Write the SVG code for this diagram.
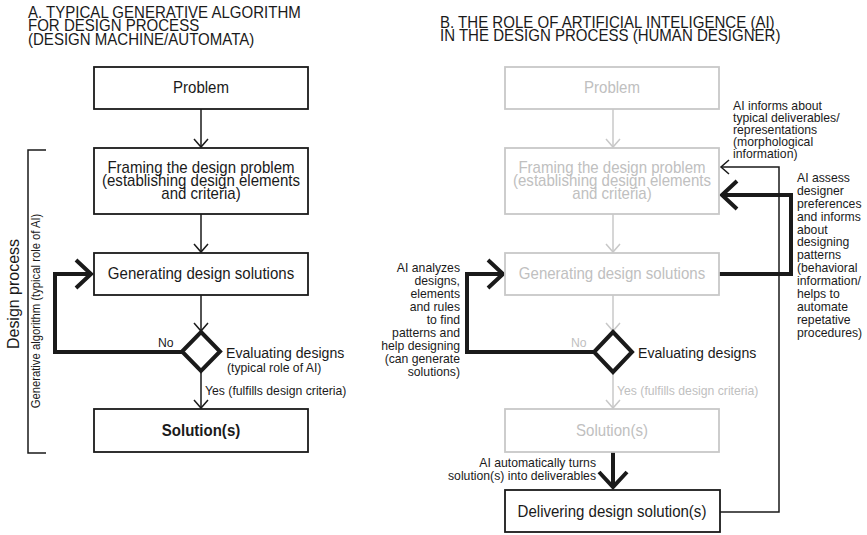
<svg xmlns="http://www.w3.org/2000/svg" width="867" height="535" viewBox="0 0 867 535">
<style>
.t{font-family:"Liberation Sans",Arial,sans-serif;fill:#1a1a1a}
.s16{font-size:16px}.s15{font-size:15px}.s13{font-size:13px}.s12{font-size:12px}.s17{font-size:17px}
.box{fill:#fff;stroke:#1a1a1a;stroke-width:1.8}
.gbox{fill:#fff;stroke:#c8c8c8;stroke-width:1.8}
.g{fill:#c0c0c0}
.thin{fill:none;stroke:#1a1a1a;stroke-width:1.5}
.gthin{fill:none;stroke:#c8c8c8;stroke-width:1.5}
.thick{fill:none;stroke:#1a1a1a;stroke-width:4}
.dia{fill:#fff;stroke:#1a1a1a;stroke-width:4}
.m{text-anchor:middle}.e{text-anchor:end}.b{font-weight:bold}
</style>
<defs>
<marker id="ah" viewBox="-20 -20 40 40" markerWidth="40" markerHeight="40" refX="0" refY="0" orient="auto" markerUnits="userSpaceOnUse">
<path d="M-8,-7 L0,0 L-8,7" fill="none" stroke="#1a1a1a" stroke-width="1.5"/>
</marker>
<marker id="gah" viewBox="-20 -20 40 40" markerWidth="40" markerHeight="40" refX="0" refY="0" orient="auto" markerUnits="userSpaceOnUse">
<path d="M-8,-7 L0,0 L-8,7" fill="none" stroke="#c8c8c8" stroke-width="1.5"/>
</marker>
<marker id="tah" viewBox="-20 -20 40 40" markerWidth="40" markerHeight="40" refX="0" refY="0" orient="auto" markerUnits="userSpaceOnUse">
<path d="M-15,-14 L0,0 L-15,14" fill="none" stroke="#1a1a1a" stroke-width="4"/>
</marker>
</defs>

<g id="titleA">
<text class="t s16" transform="translate(28,18) scale(0.94,1)"><tspan x="0">A. TYPICAL GENERATIVE ALGORITHM</tspan><tspan x="0" dy="13.3">FOR DESIGN PROCESS</tspan><tspan x="0" dy="13.3">(DESIGN MACHINE/AUTOMATA)</tspan></text>
</g>
<g id="titleB">
<text class="t s16" transform="translate(440,28) scale(0.94,1)"><tspan x="0">B. THE ROLE OF ARTIFICIAL INTELIGENCE (AI)</tspan><tspan x="0" dy="13">IN THE DESIGN PROCESS (HUMAN DESIGNER)</tspan></text>
</g>

<g id="connectors">
<line class="thin" x1="201" y1="109" x2="201" y2="147" marker-end="url(#ah)"/>
<line class="thin" x1="201" y1="214" x2="201" y2="252" marker-end="url(#ah)"/>
<line class="thin" x1="201" y1="295" x2="201" y2="331" marker-end="url(#ah)"/>
<line class="thin" x1="201" y1="371" x2="201" y2="408" marker-end="url(#ah)"/>
<path class="thick" d="M182,352 H55 V274 H91" marker-end="url(#tah)"/>
<path class="thin" d="M46,150 H28 V453 H46"/>
<line class="gthin" x1="613" y1="109" x2="613" y2="147" marker-end="url(#gah)"/>
<line class="gthin" x1="613" y1="214" x2="613" y2="252" marker-end="url(#gah)"/>
<line class="gthin" x1="613" y1="295" x2="613" y2="331" marker-end="url(#gah)"/>
<line class="gthin" x1="613" y1="372" x2="613" y2="408" marker-end="url(#gah)"/>
<path class="thick" d="M593,352 H467 V274 H503" marker-end="url(#tah)"/>
<path class="thick" d="M719,274 H791 V195 H722" marker-end="url(#tah)"/>
<path class="thin" d="M719,512 H779 V167 H721" marker-end="url(#ah)"/>
<line class="thick" x1="613" y1="452" x2="613" y2="487" marker-end="url(#tah)"/>
</g>

<g id="a-problem">
<rect class="box" x="94" y="67" width="214" height="42"/>
<text class="t s16 m" transform="translate(201,93) scale(0.94,1)">Problem</text>
</g>
<g id="a-framing">
<rect class="box" x="94" y="148" width="214" height="66"/>
<text class="t s16 m" transform="translate(201,173) scale(0.94,1)"><tspan x="0">Framing the design problem</tspan><tspan x="0" dy="13">(establishing design elements</tspan><tspan x="0" dy="13">and criteria)</tspan></text>
</g>
<g id="a-generating">
<rect class="box" x="94" y="253" width="214" height="42"/>
<text class="t s16 m" transform="translate(201,279) scale(0.94,1)">Generating design solutions</text>
</g>
<g id="a-evaluating">
<polygon class="dia" points="201,332 220,351.5 201,371 182,351.5"/>
<text class="t s15" transform="translate(226,358) scale(0.94,1)">Evaluating designs</text>
<text class="t s13" transform="translate(227,372) scale(0.94,1)">(typical role of AI)</text>
<text class="t s13" transform="translate(158,347) scale(0.94,1)">No</text>
<text class="t s13" transform="translate(205,395) scale(0.94,1)">Yes (fulfills design criteria)</text>
</g>
<g id="a-solution">
<rect class="box" x="94" y="409" width="214" height="43"/>
<text class="t s16 m b" transform="translate(201,436) scale(0.94,1)">Solution(s)</text>
</g>
<g id="a-labels">
<text class="t s17 m" transform="translate(19,294) rotate(-90) scale(0.94,1)">Design process</text>
<text class="t s12 m" transform="translate(40,311) rotate(-90) scale(0.94,1)">Generative algorithm (typical role of AI)</text>
</g>

<g id="b-problem">
<rect class="gbox" x="505" y="67" width="214" height="42"/>
<text class="t s16 m g" transform="translate(612,93) scale(0.94,1)">Problem</text>
</g>
<g id="b-framing">
<rect class="gbox" x="505" y="148" width="214" height="66"/>
<text class="t s16 m g" transform="translate(612,173) scale(0.94,1)"><tspan x="0">Framing the design problem</tspan><tspan x="0" dy="13">(establishing design elements</tspan><tspan x="0" dy="13">and criteria)</tspan></text>
</g>
<g id="b-generating">
<rect class="gbox" x="505" y="253" width="214" height="42"/>
<text class="t s16 m g" transform="translate(612,279) scale(0.94,1)">Generating design solutions</text>
</g>
<g id="b-evaluating">
<polygon class="dia" points="613,332 632,352 613,372 594,352"/>
<text class="t s15" transform="translate(638,358) scale(0.94,1)">Evaluating designs</text>
<text class="t s13 g" transform="translate(571,347) scale(0.94,1)">No</text>
<text class="t s13 g" transform="translate(617,395) scale(0.94,1)">Yes (fulfills design criteria)</text>
</g>
<g id="b-solution">
<rect class="gbox" x="505" y="409" width="214" height="43"/>
<text class="t s16 m g" transform="translate(612,436) scale(0.94,1)">Solution(s)</text>
</g>
<g id="b-delivering">
<rect class="box" x="505" y="490" width="215" height="42"/>
<text class="t s16 m" transform="translate(612,517) scale(0.94,1)">Delivering design solution(s)</text>
</g>
<g id="b-notes">
<text class="t s13 e" transform="translate(596,467) scale(0.94,1)"><tspan x="0">AI automatically turns</tspan><tspan x="0" dy="13.5">solution(s) into deliverables</tspan></text>
<text class="t s13 e" transform="translate(460,271.5) scale(0.94,1)"><tspan x="0">AI analyzes</tspan><tspan x="0" dy="13.06">designs,</tspan><tspan x="0" dy="13.06">elements</tspan><tspan x="0" dy="13.06">and rules</tspan><tspan x="0" dy="13.06">to find</tspan><tspan x="0" dy="13.06">patterns and</tspan><tspan x="0" dy="13.06">help designing</tspan><tspan x="0" dy="13.06">(can generate</tspan><tspan x="0" dy="13.06">solutions)</tspan></text>
<text class="t s13" transform="translate(733,110) scale(0.94,1)"><tspan x="0">AI informs about</tspan><tspan x="0" dy="11.9">typical deliverables/</tspan><tspan x="0" dy="11.9">representations</tspan><tspan x="0" dy="11.9">(morphological</tspan><tspan x="0" dy="11.9">information)</tspan></text>
<text class="t s13" transform="translate(797,182) scale(0.94,1)"><tspan x="0">AI assess</tspan><tspan x="0" dy="12.9">designer</tspan><tspan x="0" dy="12.9">preferences</tspan><tspan x="0" dy="12.9">and informs</tspan><tspan x="0" dy="12.9">about</tspan><tspan x="0" dy="12.9">designing</tspan><tspan x="0" dy="12.9">patterns</tspan><tspan x="0" dy="12.9">(behavioral</tspan><tspan x="0" dy="12.9">information/</tspan><tspan x="0" dy="12.9">helps to</tspan><tspan x="0" dy="12.9">automate</tspan><tspan x="0" dy="12.9">repetative</tspan><tspan x="0" dy="12.9">procedures)</tspan></text>
</g>
</svg>
